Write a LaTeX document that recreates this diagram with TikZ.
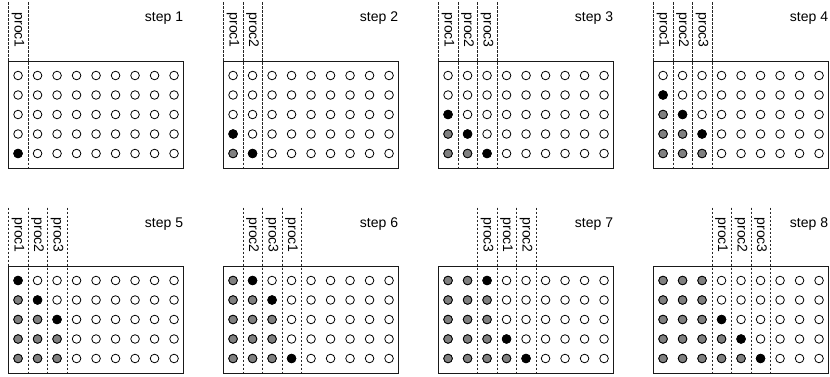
\documentclass[tikz,border=0pt]{standalone}
\usepackage{fontspec}
\setmainfont{Liberation Sans}
\tikzset{
  gridline/.style={line width=0.6pt, dash pattern=on 2.5pt off 1.5pt, black!85},
  boxline/.style={line width=0.9pt, black!90},
  dotopen/.style={line width=0.8pt, draw=black, fill=white},
  dotblack/.style={line width=0.8pt, draw=black, fill=black},
  dotgray/.style={line width=0.8pt, draw=black, fill=black!50},
  proclabel/.style={rotate=-90, anchor=west, inner sep=0pt, font=\fontsize{14}{16}\selectfont},
  steplabel/.style={anchor=base east, inner sep=0pt, font=\fontsize{14}{16}\selectfont},
}
\newcommand\drawpanel[6]{%
\begin{scope}[shift={(#1,#2)}]
  \foreach \c/\n in {#4} {
    \draw[gridline] (\c*19.5,2.5) -- (\c*19.5,168);
    \draw[gridline] (\c*19.5+19.5,2.5) -- (\c*19.5+19.5,168);
    \node[proclabel] (s#3\n) at (\c*19.5+9.75,12.5) {\n};
  }
  \draw[boxline] (0,61) rectangle (175.5,168);
  \foreach \c in {0,...,8} {
    \foreach \r in {0,...,4} {
      \draw[dotopen] (\c*19.5+9.75, 75.5+\r*19.5) circle[radius=4.3pt];
    }
  }
  \foreach \c/\r in {#5} {
    \draw[dotblack] (\c*19.5+9.75, 75.5+\r*19.5) circle[radius=4.3pt];
  }
  \ifx\relax#6\relax\else
  \foreach \c/\r in {#6} {
    \draw[dotgray] (\c*19.5+9.75, 75.5+\r*19.5) circle[radius=4.3pt];
  }
  \fi
  \node[steplabel] (t#3) at (175,22) {step #3};
\end{scope}}
\begin{document}
\begin{tikzpicture}[x=1pt,y=-1pt]
\useasboundingbox (0,0) rectangle (830,377);
\drawpanel{8.3}{0}{1}{0/proc1}{0/4}{}
\drawpanel{223.3}{0}{2}{0/proc1,1/proc2}{0/3,1/4}{0/4}
\drawpanel{438.3}{0}{3}{0/proc1,1/proc2,2/proc3}{0/2,1/3,2/4}{0/3,0/4,1/4}
\drawpanel{653.3}{0}{4}{0/proc1,1/proc2,2/proc3}{0/1,1/2,2/3}{0/2,0/3,0/4,1/3,1/4,2/4}
\drawpanel{8.3}{205}{5}{0/proc1,1/proc2,2/proc3}{0/0,1/1,2/2}{0/1,0/2,0/3,0/4,1/2,1/3,1/4,2/3,2/4}
\drawpanel{223.3}{205}{6}{1/proc2,2/proc3,3/proc1}{1/0,2/1,3/4}{0/0,0/1,0/2,0/3,0/4,1/1,1/2,1/3,1/4,2/2,2/3,2/4}
\drawpanel{438.3}{205}{7}{2/proc3,3/proc1,4/proc2}{2/0,3/3,4/4}{0/0,0/1,0/2,0/3,0/4,1/0,1/1,1/2,1/3,1/4,2/1,2/2,2/3,2/4,3/4}
\drawpanel{653.3}{205}{8}{3/proc1,4/proc2,5/proc3}{3/2,4/3,5/4}{0/0,0/1,0/2,0/3,0/4,1/0,1/1,1/2,1/3,1/4,2/0,2/1,2/2,2/3,2/4,3/3,3/4,4/4}
\end{tikzpicture}
\end{document}
